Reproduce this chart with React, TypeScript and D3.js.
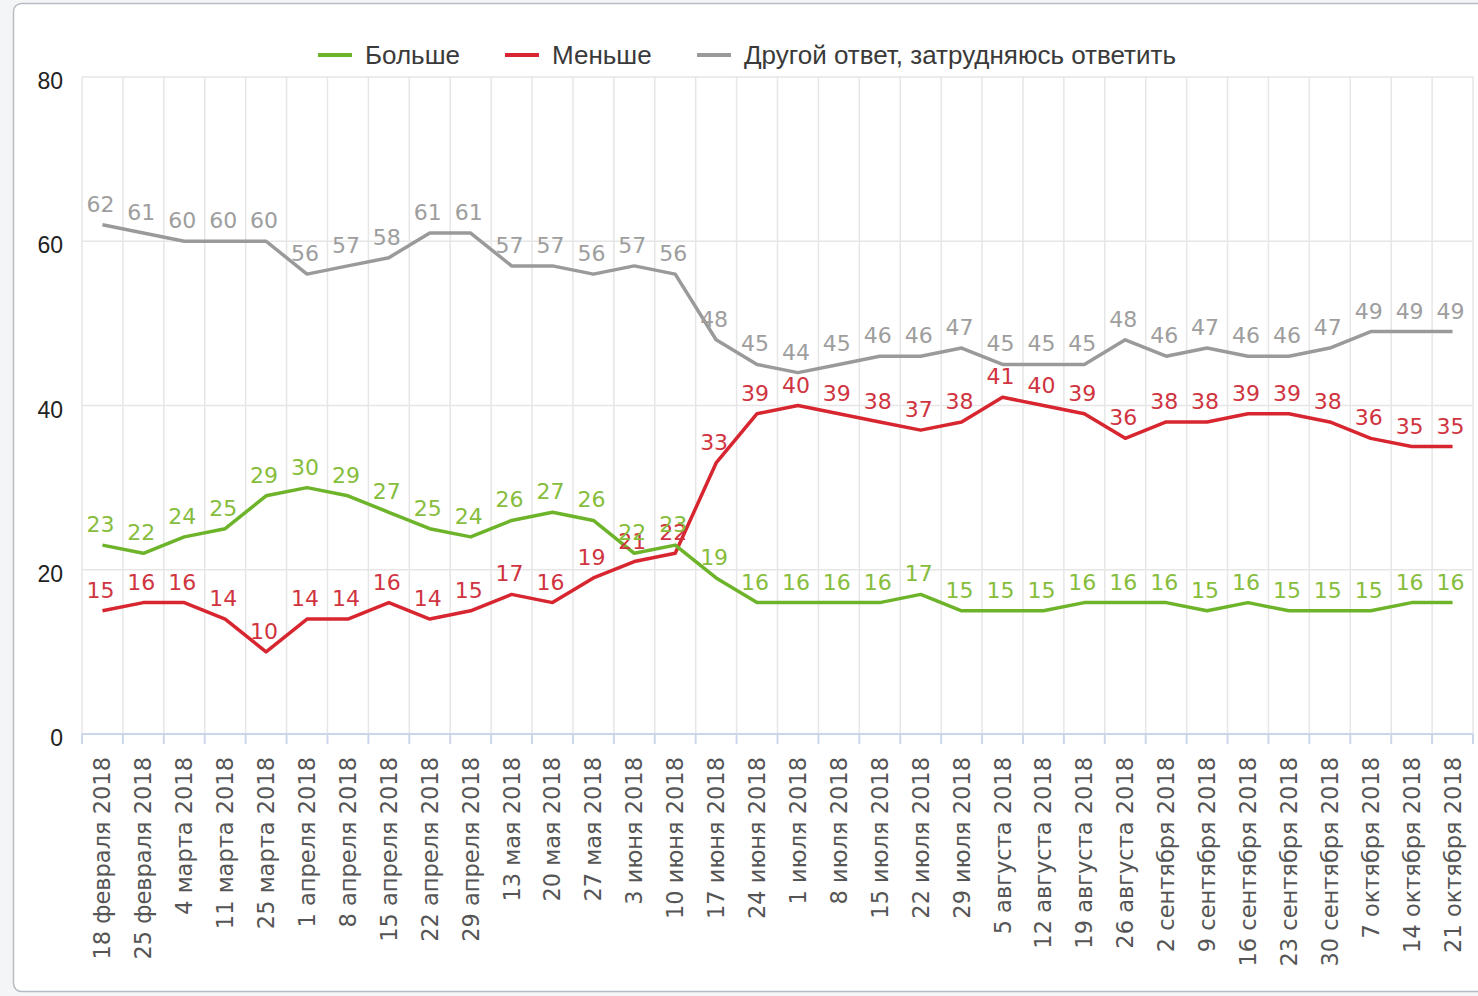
import React from "react";
import * as d3 from "d3";

const categories = [
  "18 февраля 2018", "25 февраля 2018", "4 марта 2018", "11 марта 2018", "25 марта 2018",
  "1 апреля 2018", "8 апреля 2018", "15 апреля 2018", "22 апреля 2018", "29 апреля 2018",
  "13 мая 2018", "20 мая 2018", "27 мая 2018", "3 июня 2018", "10 июня 2018",
  "17 июня 2018", "24 июня 2018", "1 июля 2018", "8 июля 2018", "15 июля 2018",
  "22 июля 2018", "29 июля 2018", "5 августа 2018", "12 августа 2018", "19 августа 2018",
  "26 августа 2018", "2 сентября 2018", "9 сентября 2018", "16 сентября 2018", "23 сентября 2018",
  "30 сентября 2018", "7 октября 2018", "14 октября 2018", "21 октября 2018",
];

const more = [23, 22, 24, 25, 29, 30, 29, 27, 25, 24, 26, 27, 26, 22, 23, 19, 16, 16, 16, 16, 17, 15, 15, 15, 16, 16, 16, 15, 16, 15, 15, 15, 16, 16];
const less = [15, 16, 16, 14, 10, 14, 14, 16, 14, 15, 17, 16, 19, 21, 22, 33, 39, 40, 39, 38, 37, 38, 41, 40, 39, 36, 38, 38, 39, 39, 38, 36, 35, 35];
const other = [62, 61, 60, 60, 60, 56, 57, 58, 61, 61, 57, 57, 56, 57, 56, 48, 45, 44, 45, 46, 46, 47, 45, 45, 45, 48, 46, 47, 46, 46, 47, 49, 49, 49];

const yTicks = [0, 20, 40, 60, 80];

const seriesNames = ["Больше", "Меньше", "Другой ответ, затрудняюсь ответить"];
const seriesData = [more, less, other];
const lineColors = ["#6db42a", "#d7262f", "#9a9a9a"];
const labelColors = ["#86bd3c", "#cf3440", "#9e9e9e"];
const legendX = [318, 505, 697];

const W = 1478;
const H = 996;
const left = 82;
const right = 1473;
const top = 77;
const bottom = 734;

export default function App() {
  const x = d3.scaleBand<string>().domain(categories).range([left, right]).padding(0);
  const y = d3.scaleLinear().domain([0, 80]).range([bottom, top]);
  const cx = (i: number) => (x(categories[i]) as number) + x.bandwidth() / 2;
  const line = d3
    .line<number>()
    .x((_, i) => cx(i))
    .y((d) => y(d));

  const boundaries = d3.range(categories.length + 1).map((i) => left + i * x.bandwidth());
  const drawOrder = [2, 1, 0];

  return (
    <div style={{ position: "absolute", left: 0, top: 0, width: W, height: H, background: "#f4f5f6" }}>
      <svg width={W} height={H} style={{ display: "block" }}>
        <rect x={13.5} y={3.5} width={W} height={988} rx={8} fill="#ffffff" stroke="#b5bcc4" strokeWidth={1.5} />
        {yTicks.filter((t) => t > 0).map((t) => (
          <line key={"h" + t} x1={left} x2={right} y1={y(t)} y2={y(t)} stroke="#e6e6e6" strokeWidth={1.5} />
        ))}
        {boundaries.map((bx, i) => (
          <line key={"v" + i} x1={bx} x2={bx} y1={top} y2={bottom} stroke="#e6e6e6" strokeWidth={1.5} />
        ))}
        <line x1={left} x2={right} y1={bottom} y2={bottom} stroke="#ccd6eb" strokeWidth={2} />
        {boundaries.map((bx, i) => (
          <line key={"t" + i} x1={bx} x2={bx} y1={bottom} y2={bottom + 10} stroke="#ccd6eb" strokeWidth={2} />
        ))}
        {yTicks.map((t) => (
          <text key={"yl" + t} x={63} y={y(t) + 12} textAnchor="end" fontFamily="Liberation Sans, Arial, sans-serif" fontSize={23} fill="#222">
            {t}
          </text>
        ))}
        {categories.map((c, i) => (
          <text
            key={"xl" + i}
            transform={`translate(${cx(i) + 8},${bottom + 23}) rotate(-90)`}
            textAnchor="end"
            fontFamily="DejaVu Sans, Verdana, sans-serif"
            fontSize={22.5}
            fill="#555"
          >
            {c}
          </text>
        ))}
        {drawOrder.map((s) => (
          <path key={"l" + s} d={line(seriesData[s]) || ""} fill="none" stroke={lineColors[s]} strokeWidth={3.5} strokeLinejoin="round" />
        ))}
        {drawOrder.map((s) =>
          seriesData[s].map((v, i) => (
            <text
              key={"d" + s + "-" + i}
              x={cx(i) - 2}
              y={y(v) - 13}
              textAnchor="middle"
              fontFamily="DejaVu Sans, Verdana, sans-serif"
              fontSize={22}
              fill={labelColors[s]}
            >
              {v}
            </text>
          ))
        )}
        {seriesNames.map((n, s) => (
          <g key={"lg" + s}>
            <line x1={legendX[s]} x2={legendX[s] + 34} y1={55} y2={55} stroke={lineColors[s]} strokeWidth={4} />
            <text x={legendX[s] + 47} y={64} fontFamily="Liberation Sans, Arial, sans-serif" fontSize={26} fill="#3a3a3a">
              {n}
            </text>
          </g>
        ))}
      </svg>
    </div>
  );
}
